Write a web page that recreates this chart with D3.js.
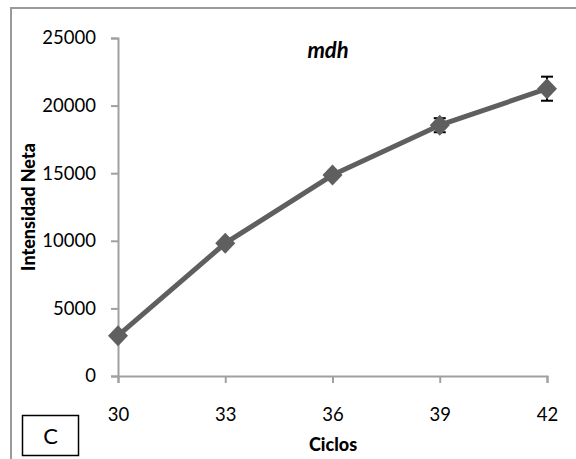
<!DOCTYPE html>
<html>
<head>
<meta charset="utf-8">
<script src="https://cdn.jsdelivr.net/npm/d3@7/dist/d3.min.js"></script>
<style>
  html, body { margin: 0; padding: 0; background: #fff; }
  svg { display: block; font-family: Lato, "Open Sans", sans-serif; }
</style>
</head>
<body>
<svg id="chart" width="576" height="459"></svg>
<script>
// Intensidad neta del gen mdh frente al número de ciclos
const ciclos = [30, 33, 36, 39, 42];
const intensidad = [2980, 9820, 14860, 18550, 21250];
const errores = [0, 0, 0, 520, 890];
const yTicks = [0, 5000, 10000, 15000, 20000, 25000];
const xTicks = [30, 33, 36, 39, 42];

const svg = d3.select("#chart");
const axisColor = "#a0a0a0";
const seriesColor = "#5f5f5f";

// outer frame (only top and left edges fall inside the view)
svg.append("rect")
  .attr("x", 11).attr("y", 8)
  .attr("width", 600).attr("height", 500)
  .attr("fill", "none")
  .attr("stroke", "#9a9a9a")
  .attr("stroke-width", 2);

const x = d3.scaleLinear().domain([30, 42]).range([118, 547]);
const y = d3.scaleLinear().domain([0, 25000]).range([376, 38]);

// y axis
const yAxis = svg.append("g")
  .attr("transform", "translate(118,0)")
  .call(d3.axisLeft(y).tickValues(yTicks).tickSize(7).tickPadding(15).tickFormat(d3.format("d")));
yAxis.select(".domain").attr("stroke", axisColor).attr("stroke-width", 2);
yAxis.selectAll(".tick line").attr("stroke", axisColor).attr("stroke-width", 2);
yAxis.selectAll(".tick text")
  .attr("fill", "#000").attr("font-size", 18.5).attr("font-family", "Lato, sans-serif");

// x axis
const xAxis = svg.append("g")
  .attr("transform", "translate(0,376)")
  .call(d3.axisBottom(x).tickValues(xTicks).tickSize(7).tickPadding(25).tickFormat(d3.format("d")));
xAxis.select(".domain").attr("stroke", axisColor).attr("stroke-width", 2);
xAxis.selectAll(".tick line").attr("stroke", axisColor).attr("stroke-width", 2);
xAxis.selectAll(".tick text")
  .attr("fill", "#000").attr("font-size", 18.5).attr("font-family", "Lato, sans-serif");

const pts = ciclos.map((c, i) => ({ c, v: intensidad[i], e: errores[i] }));

// error bars (under the markers)
const eb = svg.append("g").attr("stroke", "#000").attr("stroke-width", 2);
pts.filter(d => d.e > 0).forEach(d => {
  const cx = x(d.c);
  eb.append("line").attr("x1", cx).attr("x2", cx).attr("y1", y(d.v - d.e)).attr("y2", y(d.v + d.e));
  eb.append("line").attr("x1", cx - 6).attr("x2", cx + 6).attr("y1", y(d.v - d.e)).attr("y2", y(d.v - d.e));
  eb.append("line").attr("x1", cx - 6).attr("x2", cx + 6).attr("y1", y(d.v + d.e)).attr("y2", y(d.v + d.e));
});

// series line
svg.append("path")
  .datum(pts)
  .attr("fill", "none")
  .attr("stroke", seriesColor)
  .attr("stroke-width", 5)
  .attr("stroke-linejoin", "round")
  .attr("d", d3.line().x(d => x(d.c)).y(d => y(d.v)));

// diamond markers
svg.append("g").selectAll("path")
  .data(pts)
  .join("path")
  .attr("transform", d => `translate(${x(d.c)},${y(d.v)})`)
  .attr("d", "M0,-10.5L10,0L0,10.5L-10,0Z")
  .attr("fill", seriesColor);

// title
svg.append("text")
  .attr("x", 328).attr("y", 58)
  .attr("text-anchor", "middle")
  .attr("font-size", 22).attr("font-weight", "bold").attr("font-style", "italic")
  .text("mdh");

// axis titles
svg.append("text")
  .attr("transform", "translate(35,207) rotate(-90)")
  .attr("text-anchor", "middle")
  .attr("font-size", 18).attr("font-weight", "900")
  .text("Intensidad Neta");

svg.append("text")
  .attr("x", 333).attr("y", 451)
  .attr("text-anchor", "middle")
  .attr("font-size", 18).attr("font-weight", "900")
  .text("Ciclos");

// panel label
svg.append("rect")
  .attr("x", 22.5).attr("y", 415.5).attr("width", 56).attr("height", 40)
  .attr("fill", "#fff").attr("stroke", "#000").attr("stroke-width", 1.5);
svg.append("text")
  .attr("x", 50.5).attr("y", 444)
  .attr("text-anchor", "middle")
  .attr("font-size", 22)
  .text("C");
</script>
</body>
</html>
